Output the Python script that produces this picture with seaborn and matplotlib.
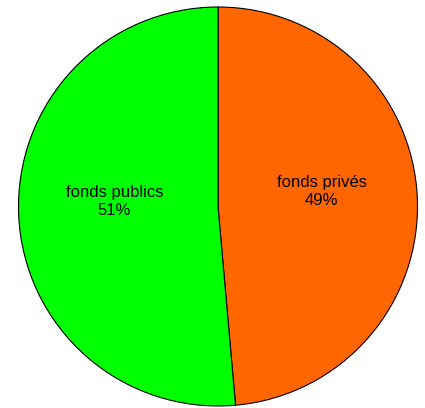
import matplotlib
matplotlib.use("Agg")
import matplotlib.pyplot as plt
import seaborn as sns
import numpy as np

labels = ["fonds privés", "fonds publics"]
values = [48.6, 51.4]
colors = ["#FF6600", "#00FF00"]

sns.set_style("white")
plt.rcParams['font.family'] = ['Liberation Sans', 'DejaVu Sans']

fig = plt.figure(figsize=(4.25, 4.08), dpi=100)
ax = fig.add_axes([17.5/425, 1/408, 401/425, 401/408])
wedges, _ = ax.pie(values, colors=colors, startangle=90, counterclock=False,
                   wedgeprops=dict(edgecolor="black", linewidth=0.8))
for w, l, v in zip(wedges, labels, values):
    ang = np.deg2rad((w.theta1 + w.theta2) / 2)
    ax.text(0.52 * np.cos(ang), 0.52 * np.sin(ang) + 0.05, f"{l}\n{v:.0f}%",
            ha="center", va="center", fontsize=12, linespacing=1.25,
            color="black")
ax.set_aspect("equal")
ax.set_xlim(-1.005, 1.005)
ax.set_ylim(-1.005, 1.005)
ax.axis("off")
fig.savefig("out.png", dpi=100)
